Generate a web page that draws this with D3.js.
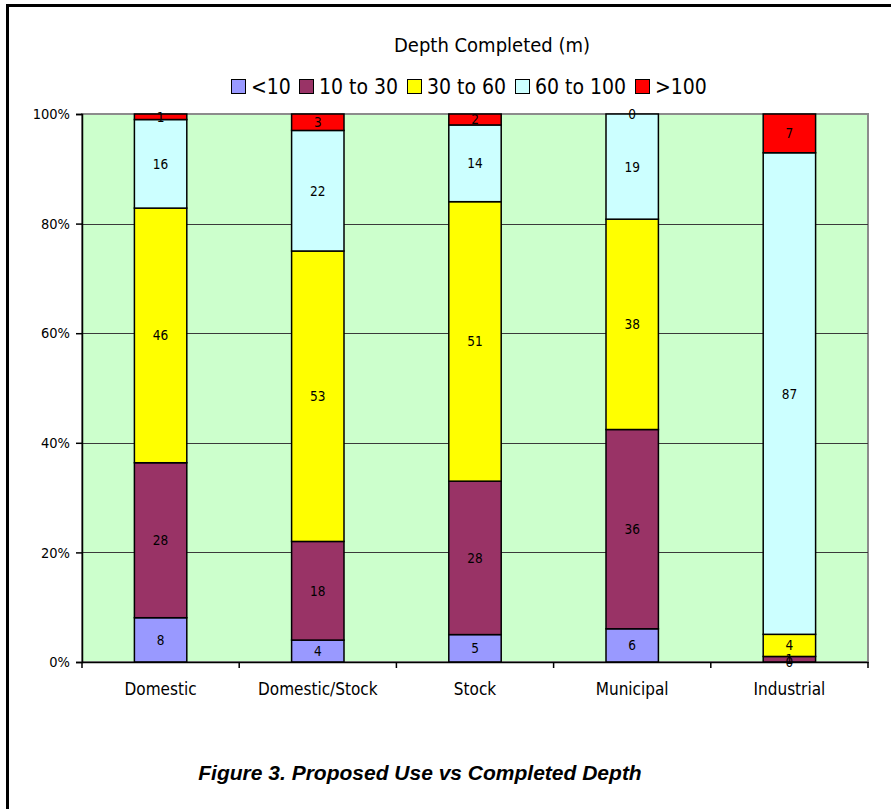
<!DOCTYPE html>
<html>
<head>
<meta charset="utf-8">
<script src="https://cdn.jsdelivr.net/npm/d3@7"></script>
<style>
  html, body { margin: 0; padding: 0; background: #ffffff; }
  svg { display: block; }
  .sans { font-family: "DejaVu Sans", sans-serif; font-stretch: condensed; }
  .caption { font-family: "Liberation Sans", Arial, sans-serif; font-weight: bold; font-style: italic; }
</style>
</head>
<body>
<svg id="chart" width="891" height="809"></svg>
<script>
// Proposed use of each well
const categories = ["Domestic", "Domestic/Stock", "Stock", "Municipal", "Industrial"];
// Completed depth classes (m), stacked bottom to top
const depthClasses = ["<10", "10 to 30", "30 to 60", "60 to 100", ">100"];
const classColors = ["#9999ff", "#993366", "#ffff00", "#ccffff", "#ff0000"];
// Percentage of wells in each depth class, one array per class
const lt10 = [8, 4, 5, 6, 0];
const d10to30 = [28, 18, 28, 36, 1];
const d30to60 = [46, 53, 51, 38, 4];
const d60to100 = [16, 22, 14, 19, 87];
const gt100 = [1, 3, 2, 0, 7];
const yTicks = [0, 0.2, 0.4, 0.6, 0.8, 1.0];
const legendTitle = "Depth Completed (m)";
const figureCaption = "Figure 3. Proposed Use vs Completed Depth";

const seriesValues = [lt10, d10to30, d30to60, d60to100, gt100];
const rows = categories.map((c, i) => {
  const r = { category: c };
  depthClasses.forEach((k, j) => { r[k] = seriesValues[j][i]; });
  return r;
});

const svg = d3.select("#chart");
const plot = { left: 82, right: 868, top: 114, bottom: 662 };

// outer frame
svg.append("rect")
  .attr("x", 7.5).attr("y", 5.5).attr("width", 900).attr("height", 900)
  .attr("fill", "none").attr("stroke", "#000").attr("stroke-width", 3);

const stack = d3.stack().keys(depthClasses).offset(d3.stackOffsetExpand);
const layers = stack(rows);

const x = d3.scaleBand().domain(categories)
  .range([plot.left, plot.right]).paddingInner(2 / 3).paddingOuter(1 / 3);
const xCat = d3.scaleBand().domain(categories).range([plot.left, plot.right]).padding(0);
const y = d3.scaleLinear().domain([0, 1]).range([plot.bottom, plot.top]);

// plot area background
svg.append("rect")
  .attr("x", plot.left).attr("y", plot.top)
  .attr("width", plot.right - plot.left).attr("height", plot.bottom - plot.top)
  .attr("fill", "#ccffcc").attr("stroke", "#8c8c8c").attr("stroke-width", 2);

// horizontal gridlines
svg.append("g").selectAll("line")
  .data(yTicks.filter(t => t > 0 && t < 1))
  .join("line")
  .attr("x1", plot.left).attr("x2", plot.right)
  .attr("y1", d => Math.round(y(d)) + 0.5).attr("y2", d => Math.round(y(d)) + 0.5)
  .attr("stroke", "#3a3a3a").attr("stroke-width", 1);

// stacked bars
const layerG = svg.append("g").selectAll("g")
  .data(layers)
  .join("g")
  .attr("fill", (d, i) => classColors[i]);

layerG.selectAll("rect")
  .data(d => d.map(p => ({ p, cat: p.data.category })))
  .join("rect")
  .attr("x", d => x(d.cat))
  .attr("width", x.bandwidth())
  .attr("y", d => y(d.p[1]))
  .attr("height", d => y(d.p[0]) - y(d.p[1]))
  .attr("stroke", "#000").attr("stroke-width", 1.5);

// y axis
const yAxis = svg.append("g")
  .attr("transform", `translate(${plot.left},0)`)
  .call(d3.axisLeft(y).tickValues(yTicks).tickFormat(d3.format(".0%")).tickSize(6).tickPadding(6));
yAxis.select(".domain").attr("stroke", "#000").attr("stroke-width", 1.5);
yAxis.selectAll(".tick line").attr("stroke", "#000").attr("stroke-width", 1.5);
yAxis.selectAll("text").attr("class", "sans").attr("font-size", 14.5).attr("fill", "#000");

// x axis with ticks at category boundaries
const xAxis = svg.append("g")
  .attr("transform", `translate(0,${plot.bottom})`)
  .call(d3.axisBottom(xCat).tickSize(0).tickPadding(21));
xAxis.select(".domain").attr("stroke", "#000").attr("stroke-width", 1.5);
xAxis.selectAll("text").attr("class", "sans").attr("font-size", 17).attr("fill", "#000");
const boundaries = categories.map(c => xCat(c)).concat([xCat(categories[categories.length - 1]) + xCat.bandwidth()]);
xAxis.append("g").selectAll("line")
  .data(boundaries)
  .join("line")
  .attr("x1", d => d).attr("x2", d => d)
  .attr("y1", 0).attr("y2", 6)
  .attr("stroke", "#000").attr("stroke-width", 1.5);

// data labels, centred on each segment
const labelG = svg.append("g").attr("class", "sans").attr("font-size", 13.5).attr("fill", "#000");
layers.forEach((layer, j) => {
  labelG.append("g").selectAll("text")
    .data(layer.map((p, i) => ({ p, cat: categories[i], v: seriesValues[j][i] })))
    .join("text")
    .attr("x", d => x(d.cat) + x.bandwidth() / 2)
    .attr("y", d => y((d.p[0] + d.p[1]) / 2))
    .attr("text-anchor", "middle")
    .attr("dominant-baseline", "central")
    .text(d => d.v);
});

// legend
svg.append("text")
  .attr("class", "sans")
  .attr("x", 492).attr("y", 52)
  .attr("text-anchor", "middle")
  .attr("font-size", 20)
  .text(legendTitle);

const legendG = svg.append("g").attr("class", "sans").attr("font-size", 21);
const legendX = [231, 299, 407, 515, 635];
depthClasses.forEach((k, i) => {
  const g = legendG.append("g").attr("transform", `translate(${legendX[i]},79)`);
  g.append("rect").attr("x", 0.5).attr("y", 0.5).attr("width", 14).attr("height", 14)
    .attr("fill", classColors[i]).attr("stroke", "#000").attr("stroke-width", 1);
  g.append("text").attr("x", 20).attr("y", 15).text(k);
});

// figure caption
svg.append("text")
  .attr("class", "caption")
  .attr("x", 420).attr("y", 780)
  .attr("text-anchor", "middle")
  .attr("font-size", 21)
  .text(figureCaption);
</script>
</body>
</html>
